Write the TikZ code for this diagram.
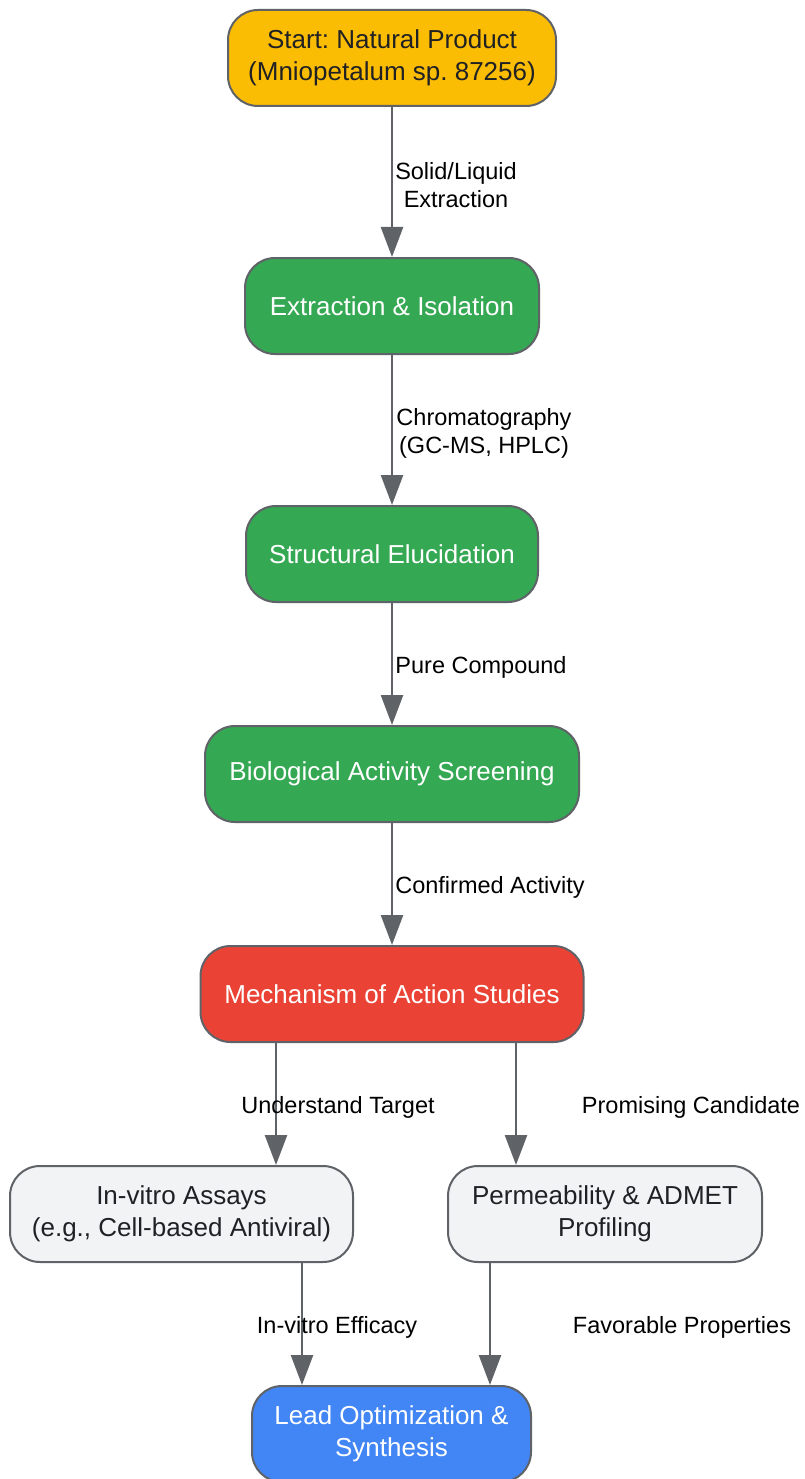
\documentclass[tikz,border=0pt]{standalone}
\usepackage{fontspec}
\setmainfont{Liberation Sans}
\usetikzlibrary{arrows.meta}
\frenchspacing
\definecolor{edgec}{HTML}{5F6368}
\definecolor{startc}{HTML}{FBBC04}
\definecolor{greenc}{HTML}{34A853}
\definecolor{redc}{HTML}{EA4335}
\definecolor{grayc}{HTML}{F1F3F4}
\definecolor{bluec}{HTML}{4285F4}
\definecolor{darktxt}{HTML}{202124}
\begin{document}
\begin{tikzpicture}[x=1pt,y=-1pt,
  box/.style={draw=edgec, line width=2pt, rounded corners=30pt, minimum height=96pt,
    align=center, font=\fontsize{26}{32}\selectfont\frenchspacing, inner sep=0pt},
  darkbox/.style={box, text=darktxt},
  lightbox/.style={box, text=white},
  lbl/.style={align=center, font=\fontsize{23.5}{28}\selectfont, text=black, inner sep=0pt},
  arr/.style={draw=edgec, line width=2.5pt, -{Triangle[length=30pt,width=22pt]}, shorten >=0pt}]
\fill[white] (0,0) rectangle (804,1479);
\useasboundingbox (0,0) rectangle (804,1479);
\begin{scope}
\clip (0,0) rectangle (804,1479);
\node[darkbox, fill=startc, minimum width=328pt] (n1) at (392,58) {Start: Natural Product\\(Mniopetalum sp. 87256)};
\node[lightbox, fill=greenc, minimum width=294pt] (n2) at (392,306) {Extraction \& Isolation};
\node[lightbox, fill=greenc, minimum width=292pt] (n3) at (392,554) {Structural Elucidation};
\node[lightbox, fill=greenc, minimum width=374pt] (n4) at (392,774) {Biological Activity Screening};
\node[lightbox, fill=redc, minimum width=383pt] (n5) at (392,994) {Mechanism of Action Studies};
\node[darkbox, fill=grayc, minimum width=343pt] (n6) at (181.5,1214) {In-vitro Assays\\(e.g., Cell-based Antiviral)};
\node[darkbox, fill=grayc, minimum width=314pt] (n7) at (605,1214) {Permeability \& ADMET\\Profiling};
\node[lightbox, fill=bluec, minimum width=279pt] (n8) at (391.5,1434) {Lead Optimization \&\\Synthesis};

\coordinate (c56) at (276,0);
\coordinate (c57) at (516,0);
\coordinate (c68) at (302,0);
\coordinate (c78) at (490,0);

\draw[arr] (n1) -- (n2);
\draw[arr] (n2) -- (n3);
\draw[arr] (n3) -- (n4);
\draw[arr] (n4) -- (n5);
\draw[arr] (n5.south -| c56) -- (n6.north -| c56);
\draw[arr] (n5.south -| c57) -- (n7.north -| c57);
\draw[arr] (n6.south -| c68) -- (n8.north -| c68);
\draw[arr] (n7.south -| c78) -- (n8.north -| c78);

\node[lbl] (l1) at (456,185) {Solid/Liquid\\Extraction};
\node[lbl] (l2) at (484,433) {Chromatography\\(GC-MS, HPLC)};
\node[lbl] (l3) at (481,667) {Pure Compound};
\node[lbl] (l4) at (490,887) {Confirmed Activity};
\node[lbl] (l5) at (338,1107) {Understand Target};
\node[lbl] (l6) at (691,1107) {Promising Candidate};
\node[lbl] (l7) at (337,1327) {In-vitro Efficacy};
\node[lbl] (l8) at (682,1327) {Favorable Properties};
\end{scope}
\end{tikzpicture}
\end{document}
